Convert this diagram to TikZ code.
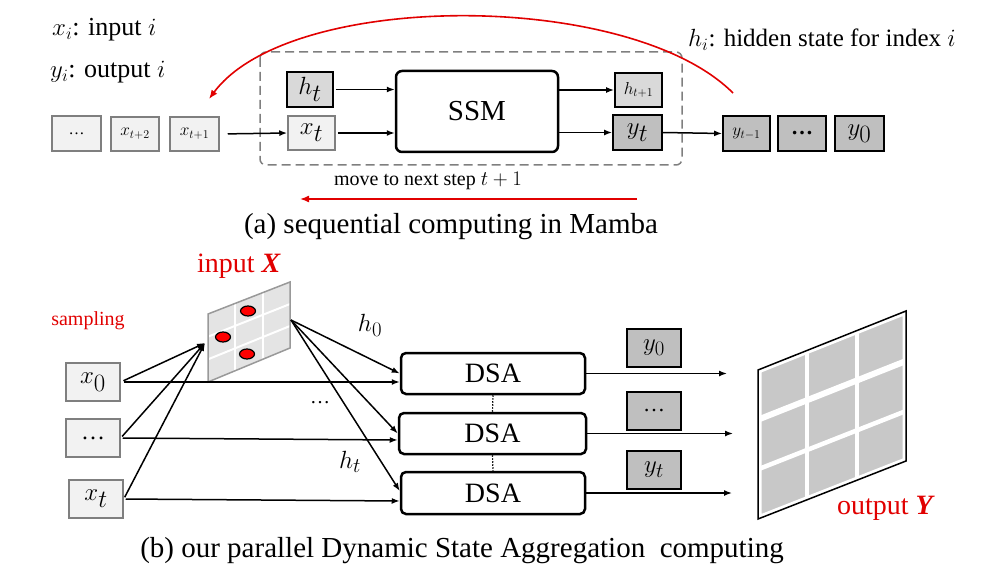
\documentclass[tikz,border=0pt]{standalone}
\usepackage{fontspec}
\setmainfont{Liberation Serif}
\usetikzlibrary{arrows.meta,calc,shapes.geometric}
\definecolor{lfill}{HTML}{F2F2F2}
\definecolor{mfill}{HTML}{D9D9D9}
\definecolor{dfill}{HTML}{BFBFBF}
\definecolor{bgray}{HTML}{7F7F7F}
\definecolor{myred}{RGB}{225,0,0}
\definecolor{infill}{RGB}{228,228,228}
\definecolor{outfill}{RGB}{200,200,200}
\newcommand{\myfs}[1]{\fontsize{#1}{#1}\selectfont}
\begin{document}
\begin{tikzpicture}[x=1pt,y=-1pt,
  lbox/.style={draw=bgray,fill=lfill,line width=1.5pt,inner sep=0pt},
  hbox/.style={draw=black,fill=mfill,line width=1.8pt,inner sep=0pt},
  dbox/.style={draw=black,fill=dfill,line width=1.8pt,inner sep=0pt},
  bigbox/.style={draw=black,fill=white,line width=2.5pt,rounded corners=6pt,inner sep=0pt},
  arr/.style={-{Latex[length=8pt,width=6pt]},line width=1.5pt},
  redarr/.style={-{Latex[length=9pt,width=7pt]},line width=1.6pt,draw=myred},
  txt/.style={inner sep=0pt},
  dotsline/.style={line width=1.2pt,dash pattern=on 1.5pt off 1.5pt}]
\useasboundingbox (0,0) rectangle (996,575);

% ---------------- (a) ----------------
\node[txt,anchor=west] (lx) at (52,30) {\myfs{26}$x_i$: input $i$};
\node[txt,anchor=west] (ly) at (50,72) {\myfs{26}$y_i$: output $i$};
\node[txt,anchor=west] (lh) at (688,40) {\myfs{25}$h_i$: hidden state for index $i$};

\draw[draw=bgray,line width=1.5pt,dash pattern=on 9pt off 5pt,rounded corners=6pt] (260,52) rectangle (682,165);

\node[lbox,minimum width=49pt,minimum height=35pt] (dots1) at (76.5,133.5) {\myfs{16}\textellipsis};
\node[lbox,minimum width=48pt,minimum height=34pt] (xt2) at (135,134) {\myfs{18}$x_{t+2}$};
\node[lbox,minimum width=49pt,minimum height=34pt] (xt1) at (194.5,134) {\myfs{18}$x_{t+1}$};
\node[lbox,minimum width=47pt,minimum height=34pt] (xt) at (311.5,133) {\myfs{33}$x_t$};
\node[hbox,minimum width=46pt,minimum height=35pt] (ht) at (310,89.5) {\myfs{33}$h_t$};
\node[bigbox,minimum width=162pt,minimum height=81pt] (ssm) at (477,111.5) {\myfs{29}SSM};
\node[hbox,minimum width=47pt,minimum height=34pt] (ht1) at (638.5,90) {\myfs{18}$h_{t+1}$};
\node[dbox,minimum width=49pt,minimum height=35pt] (yt) at (637.5,132.5) {\myfs{33}$y_t$};
\node[dbox,minimum width=47pt,minimum height=35pt] (ytm1) at (746.5,133.5) {\myfs{18}$y_{t-1}$};
\node[dbox,minimum width=48pt,minimum height=35pt] (dots2) at (802,133.5) {\myfs{22}\textbf{\textellipsis}};
\node[dbox,minimum width=49pt,minimum height=35pt] (y0) at (859.5,133.5) {\myfs{33}$y_0$};

\draw[arr,shorten <=8pt] (xt1.east) -- (xt.west);
\draw[arr,shorten <=2pt] (ht.east) -- (ht.east -| ssm.west);
\draw[arr,shorten <=2pt] (xt.east) -- (xt.east -| ssm.west);
\draw[arr] (ssm.east |- ht1.west) -- (ht1.west);
\draw[arr] (ssm.east |- yt.west) -- (yt.west);
\draw[arr] (yt.east) -- (ytm1.west);

\coordinate (rs) at (733,93);
\coordinate (re) at (209,99);
\draw[redarr] (rs) .. controls (630,-10) and (290,-10) .. (re);

\coordinate (ms) at (637,199);
\coordinate (me) at (300,199);
\draw[redarr] (ms) -- (me);
\node[txt] (move) at (428,181) {\myfs{20}move to next step $t+1$};

\node[txt] (capa) at (451,227) {\myfs{29}(a) sequential computing in Mamba};

% ---------------- (b) ----------------
\node[txt,text=myred] (inX) at (239,266) {\myfs{28}input \textbf{\textit{X}}};
\node[txt,text=myred] (samp) at (88,321) {\myfs{20}sampling};

\coordinate (iA) at (208,314);
\coordinate (iB) at (290,282);
\coordinate (iC) at (290,348);
\coordinate (iD) at (208,382);
\fill[infill] (iA) -- (iB) -- (iC) -- (iD) -- cycle;
\foreach \f in {1/3,2/3}{
  \draw[white,line width=2pt] ($(iA)!\f!(iB)$) -- ($(iD)!\f!(iC)$);
  \draw[white,line width=2pt] ($(iA)!\f!(iD)$) -- ($(iB)!\f!(iC)$);
}
\draw[draw=gray!80,line width=1.5pt,line join=miter] (iA) -- (iB) -- (iC) -- (iD) -- cycle;
\node[draw=black,fill=red,ellipse,minimum width=15pt,minimum height=10pt,inner sep=0pt,line width=1.2pt] (d1) at (248,311) {};
\node[draw=black,fill=red,ellipse,minimum width=15pt,minimum height=10pt,inner sep=0pt,line width=1.2pt] (d2) at (223,337) {};
\node[draw=black,fill=red,ellipse,minimum width=15pt,minimum height=10pt,inner sep=0pt,line width=1.2pt] (d3) at (247,354) {};
\coordinate (iIn) at (205,343);
\coordinate (iOut) at (291,320);

\node[lbox,minimum width=54pt,minimum height=38pt] (x0b) at (93,382) {\myfs{33}$x_0$};
\node[lbox,minimum width=54pt,minimum height=38pt] (dotsb) at (93,438) {\myfs{24}\textellipsis};
\node[lbox,minimum width=54pt,minimum height=38pt] (xtb) at (96,499) {\myfs{33}$x_t$};

\node[bigbox,rounded corners=5pt,minimum width=184pt,minimum height=41pt] (dsa1) at (493,373.5) {\myfs{28}DSA};
\node[bigbox,rounded corners=5pt,minimum width=187pt,minimum height=41pt] (dsa2) at (492.5,433.5) {\myfs{28}DSA};
\node[bigbox,rounded corners=5pt,minimum width=184pt,minimum height=42pt] (dsa3) at (493,493) {\myfs{28}DSA};
\draw[dotsline] (dsa1.south) -- (dsa2.north);
\draw[dotsline] (dsa2.south) -- (dsa3.north);

\draw[arr,shorten <=3pt] (x0b.east) -- (x0b.east -| dsa1.west);
\draw[arr,shorten <=2pt] (dotsb.east) -- ($(dsa2.west)+(0,6.5)$);
\draw[arr,shorten <=2pt] (xtb.east) -- ($(dsa3.west)+(0,8)$);
\draw[arr,shorten <=3pt] (x0b.east) -- (iIn);
\draw[arr,shorten <=2pt] (dotsb.east) -- (iIn);
\draw[arr,shorten <=2pt] (xtb.east) -- (iIn);
\draw[arr] (iOut) -- (dsa1.west);
\draw[arr] (iOut) -- (dsa2.west);
\draw[arr] (iOut) -- ($(dsa3.west)+(0,-2)$);

\node[txt] (lh0) at (370,325) {\myfs{31}$h_0$};
\node[txt] (ldots) at (320,403) {\myfs{20}\textellipsis};
\node[txt] (lht) at (350,462) {\myfs{31}$h_t$};

\coordinate (o1) at (727,373.5);
\coordinate (o2) at (733,433.5);
\coordinate (o3) at (732,493);
\draw[arr] (dsa1.east) -- (o1);
\draw[arr] (dsa2.east) -- (o2);
\draw[arr] (dsa3.east) -- (o3);

\node[dbox,minimum width=54pt,minimum height=38pt] (y0b) at (654,348) {\myfs{31}$y_0$};
\node[dbox,minimum width=54pt,minimum height=38pt] (dotsc) at (654,411) {\myfs{22}\textellipsis};
\node[dbox,minimum width=54pt,minimum height=38pt] (ytb) at (654,470) {\myfs{31}$y_t$};

\coordinate (oA) at (758,370);
\coordinate (oB) at (906,311);
\coordinate (oC) at (906,461);
\coordinate (oD) at (758,519);
\fill[outfill] (oA) -- (oB) -- (oC) -- (oD) -- cycle;
\draw[white,line width=6pt] ($(oA)!1/3!(oD)$) -- ($(oB)!1/3!(oC)$);
\draw[white,line width=4.5pt] ($(oA)!2/3!(oD)$) -- ($(oB)!2/3!(oC)$);
\draw[white,line width=4pt] ($(oA)!1/3!(oB)$) -- ($(oD)!1/3!(oC)$);
\draw[white,line width=4pt] ($(oA)!2/3!(oB)$) -- ($(oD)!2/3!(oC)$);
\draw[white,line width=7pt,line join=miter] (oA) -- (oB) -- (oC) -- (oD) -- cycle;
\draw[black,line width=1.5pt,line join=miter] (oA) -- (oB) -- (oC) -- (oD) -- cycle;
\node[txt,text=myred] (outY) at (886,508) {\myfs{28}output \textbf{\textit{Y}}};

\node[txt] (capb) at (462,551) {\myfs{29}(b) our parallel Dynamic State Aggregation\ \ computing};
\end{tikzpicture}
\end{document}
